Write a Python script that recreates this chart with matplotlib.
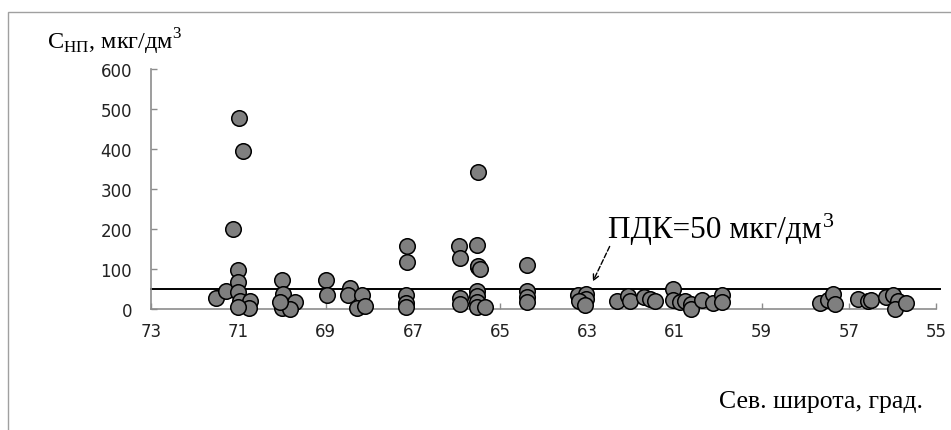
import matplotlib
matplotlib.use("Agg")
import matplotlib.pyplot as plt
from matplotlib.patches import Rectangle
from matplotlib.transforms import blended_transform_factory, offset_copy

# latitude (deg N) and concentration (mkg/dm3)
lat = [71.53, 71.28, 70.99, 70.90, 71.13, 71.01, 71.01, 71.02, 70.97, 70.74, 70.76, 71.02,
       70.01, 69.98, 69.71, 70.01, 69.82, 70.05,
       69.00, 68.98,
       68.45, 68.49, 68.17, 68.29, 68.10,
       67.13, 67.13, 67.16, 67.16, 67.16,
       65.95, 65.91, 65.91, 65.92,
       65.53, 65.50, 65.50, 65.51, 65.46, 65.52, 65.52, 65.52, 65.52, 65.35,
       64.39, 64.39, 64.39, 64.39,
       63.22, 63.04, 63.04, 63.18, 63.06,
       62.33, 62.06, 62.03, 61.70, 61.57, 61.45, 61.03, 61.03, 60.88, 60.76,
       60.62, 60.62, 60.38, 60.12, 59.90, 59.90,
       57.67, 57.48, 57.36, 57.32, 56.79, 56.56, 56.48, 56.14, 55.98, 55.87, 55.95, 55.68]
conc = [26, 43, 478, 395, 200, 97, 66, 41, 20, 20, 1, 4,
        72, 36, 17, 1, 0, 16,
        72, 35,
        51, 33, 34, 0.5, 7.5,
        156, 117, 35, 14, 4,
        156, 126, 26, 11,
        159, 342, 103, 107, 99, 45, 32, 16, 4, 5,
        109, 45, 29, 16,
        33, 36, 23, 20, 9,
        20, 32, 18, 28, 24, 20, 48, 22, 16, 20,
        12, 0, 22, 15, 34, 16,
        15, 22, 36, 12, 24, 20, 22, 30, 34, 18, 0, 15]

xticks = [73, 71, 69, 67, 65, 63, 61, 59, 57, 55]
yticks = [0, 100, 200, 300, 400, 500, 600]
pdk = 50

plt.rcParams['mathtext.fontset'] = 'custom'
plt.rcParams['mathtext.rm'] = 'Liberation Serif'

fig = plt.figure(figsize=(9.51, 4.31), dpi=100)
ax = fig.add_axes([0.1593, 0.2819, 0.8249, 0.5548])

# outer frame
fig.patches.append(Rectangle((8 / 951, -0.1), 1.2, 1.1 - 13 / 431, transform=fig.transFigure,
                             fill=False, edgecolor='#a0a0a0', linewidth=1))

ax.scatter(lat, conc, s=125, c='#7f7f7f', edgecolors='black', linewidths=1.1,
           clip_on=False, zorder=3)
ax.plot([73, 54.9], [pdk, pdk], color='black', linewidth=1.4, zorder=2, clip_on=False)

ax.set_xlim(73, 55)
ax.set_ylim(0, 600)
ax.set_xticks(xticks)
ax.set_yticks(yticks)
for s in ['top', 'right']:
    ax.spines[s].set_visible(False)
for s in ['left', 'bottom']:
    ax.spines[s].set_color('#8c8c8c')
    ax.spines[s].set_linewidth(1.2)
ax.tick_params(direction='in', length=4, color='#8c8c8c', labelcolor='#222222',
               labelsize=12, width=1)
ax.tick_params(axis='y', pad=14)
ax.tick_params(axis='x', pad=9.5)

# ПДК label with dashed arrow
ax.annotate('', xy=(62.90, 61.5), xytext=(62.46, 162),
            arrowprops=dict(arrowstyle='->', linestyle='--', color='black', lw=1))
t = ax.text(62.53, 179, 'ПДК=50 мкг/дм', fontsize=22.5, family='Liberation Serif',
            va='baseline', ha='left')
fig.canvas.draw()
x_end = fig.transFigure.inverted().transform(t.get_window_extent().p1)[0]
sup = offset_copy(blended_transform_factory(fig.transFigure, ax.transData),
                  fig=fig, x=1, y=8, units='points')
ax.text(x_end, 179, '3', fontsize=16, family='Liberation Serif',
        va='baseline', ha='left', transform=sup)

fig.text(47 / 951, 0.886, r'C$_{\mathrm{НП}}$, мкг/дм$^{\mathrm{3}}$', fontsize=17.5,
         family='Liberation Serif', va='baseline', ha='left')
fig.text(923 / 951, 0.0534, 'Сев. широта, град.', fontsize=18.5,
         family='Liberation Serif', va='baseline', ha='right')

fig.savefig('out.png', dpi=100)
